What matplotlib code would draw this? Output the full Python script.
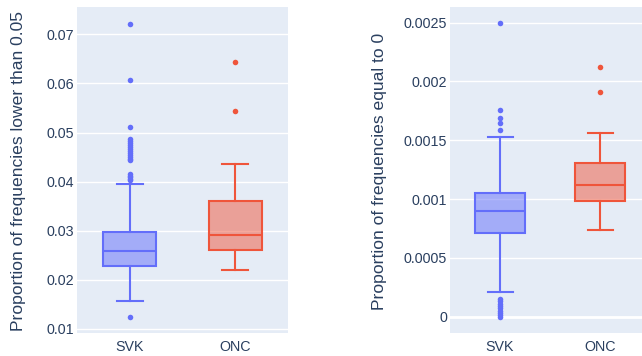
import matplotlib.pyplot as plt
from matplotlib.colors import to_rgba

plt.rcParams['font.family'] = ['Liberation Sans', 'DejaVu Sans']

groups = ['SVK', 'ONC']
colors = ['#636EFA', '#EF553B']

# share of frequencies below 0.05
low_q1 = [0.0228, 0.0260]
low_med = [0.0259, 0.0292]
low_q3 = [0.0298, 0.0360]
low_whislo = [0.0157, 0.0219]
low_whishi = [0.0395, 0.0436]
low_fliers = [
    [0.0722, 0.0607, 0.0511,
     0.0486, 0.0482, 0.0478, 0.0474, 0.0470, 0.0466, 0.0462, 0.0458,
     0.0454, 0.0450, 0.0446, 0.0443,
     0.0415, 0.0412, 0.0409, 0.0406, 0.0403,
     0.0124],
    [0.0644, 0.0543],
]
low_ticks = [0.01, 0.02, 0.03, 0.04, 0.05, 0.06, 0.07]

# share of frequencies equal to zero
zero_q1 = [0.000709, 0.000986]
zero_med = [0.000901, 0.001117]
zero_q3 = [0.001054, 0.001307]
zero_whislo = [0.000210, 0.000737]
zero_whishi = [0.001531, 0.001565]
zero_fliers = [
    [0.00250, 0.00176, 0.00169, 0.00165, 0.00159,
     0.00015, 0.00013, 0.00011, 0.00009, 0.00007, 0.00005,
     0.00003, 0.00001, 0.0],
    [0.002126, 0.001908],
]
zero_ticks = [0, 0.0005, 0.001, 0.0015, 0.002, 0.0025]

text_color = '#2a3f5f'
bg = '#E5ECF6'

fig = plt.figure(figsize=(6.42, 3.56), dpi=100)
ax1 = fig.add_axes([77 / 642, 23 / 356, 211 / 642, 326 / 356])
ax2 = fig.add_axes([450 / 642, 23 / 356, 200 / 642, 326 / 356])


def draw_boxes(ax, q1, med, q3, lo, hi, fliers):
    for i, c in enumerate(colors):
        st = dict(q1=q1[i], med=med[i], q3=q3[i],
                  whislo=lo[i], whishi=hi[i], fliers=fliers[i])
        ax.bxp([st], positions=[i], widths=0.5, patch_artist=True,
               boxprops=dict(facecolor=to_rgba(c, 0.5), edgecolor=c, linewidth=1.5),
               medianprops=dict(color=c, linewidth=1.5),
               whiskerprops=dict(color=c, linewidth=1.5),
               capprops=dict(color=c, linewidth=1.5),
               flierprops=dict(marker='o', markerfacecolor=c,
                               markeredgecolor='none', markersize=4))


def style(ax, ticks, ylim, label, label_x):
    ax.set_facecolor(bg)
    for s in ax.spines.values():
        s.set_visible(False)
    ax.set_xlim(-0.5, 1.5)
    ax.set_ylim(*ylim)
    ax.set_xticks(range(len(groups)))
    ax.set_xticklabels(groups)
    ax.set_yticks(ticks)
    ax.set_yticklabels([f'{t:g}' for t in ticks])
    ax.tick_params(length=0, labelsize=10.3, colors=text_color)
    ax.tick_params(axis='y', pad=2)
    ax.tick_params(axis='x', pad=5)
    ax.yaxis.grid(True, color='white', linewidth=1)
    ax.set_axisbelow(True)
    fig.text(label_x / 642, 1 - 171 / 356, label, rotation=90,
             ha='center', va='center', fontsize=12.6, color=text_color)


draw_boxes(ax1, low_q1, low_med, low_q3, low_whislo, low_whishi, low_fliers)
style(ax1, low_ticks, (0.00912, 0.0756),
      'Proportion of frequencies lower than 0.05', 18.5)

draw_boxes(ax2, zero_q1, zero_med, zero_q3, zero_whislo, zero_whishi, zero_fliers)
ax2.axhline(0, color='white', linewidth=2, zorder=1)
style(ax2, zero_ticks, (-0.000139, 0.002633),
      'Proportion of frequencies equal to 0', 380)

fig.savefig('out.png', dpi=100)
